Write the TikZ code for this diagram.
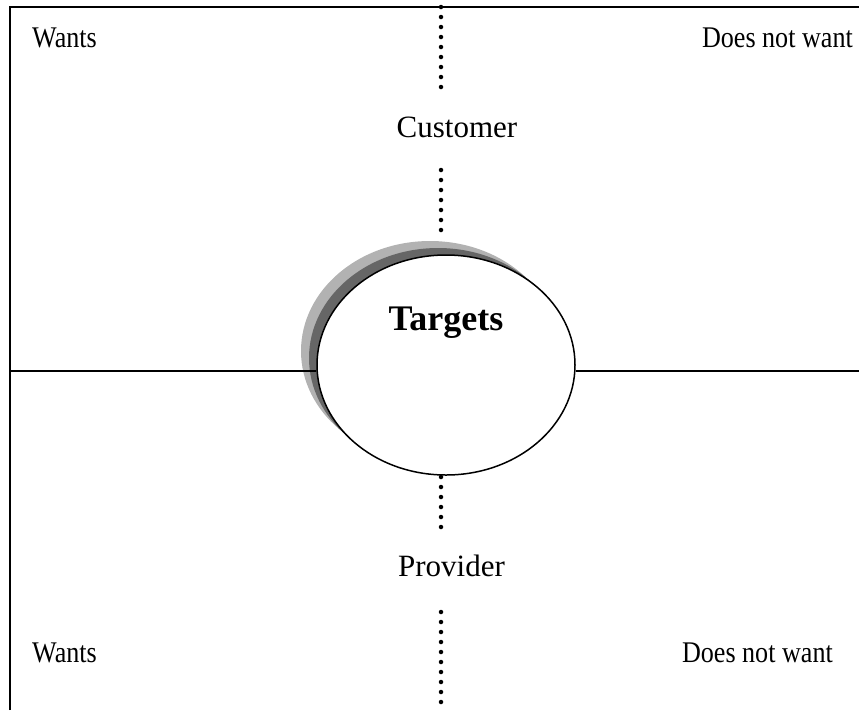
\documentclass[tikz,border=0pt]{standalone}
\usepackage{fontspec}
\setmainfont{Liberation Serif}
\usepackage{graphicx}
\usetikzlibrary{shapes.geometric,shadows}

\definecolor{shadelight}{gray}{0.70}
\definecolor{shadedark}{gray}{0.40}

\newcommand{\condensed}[1]{\scalebox{0.87}[1]{#1}}

\tikzset{
  frameline/.style={line width=2pt},
  midline/.style={line width=1.5pt},
  dotline/.style={line width=4.5pt, line cap=round, dash pattern=on 0pt off 10pt},
  corner/.style={inner sep=0pt, font=\fontsize{30}{36}\selectfont},
  role/.style={inner sep=0pt, font=\fontsize{31}{37}\selectfont},
}

\begin{document}
\begin{tikzpicture}[x=1pt, y=-1pt]
    \useasboundingbox (0,0) rectangle (859,710);

    % frame
    \draw[frameline] (10,710) -- (10,7) -- (859,7);

    % targets ellipse with its shadow
    \node[ellipse, draw, line width=1.5pt, fill=white, inner sep=0pt,
          minimum width=258pt, minimum height=220pt,
          copy shadow={shadow xshift=-16pt, shadow yshift=14pt, fill=shadelight, draw=none},
          copy shadow={shadow xshift=-8pt, shadow yshift=7pt, fill=shadedark, draw=none}]
          (target) at (446,365) {};
    \node[inner sep=0pt, anchor=base, font=\fontsize{36}{43}\selectfont\bfseries]
          (targetlabel) at (446,330) {Targets};

    % middle line
    \coordinate (midleft) at (10,371);
    \coordinate (midright) at (859,371);
    \draw[midline] (midleft) -- (midleft -| target.west);
    \draw[midline] (midright -| target.east) -- (midright);

    % customer
    \node[role, anchor=base] (customer) at (457,137) {Customer};
    \coordinate (ctop) at (441,7);
    \coordinate (cend) at (441,93);
    \coordinate (cstart) at (441,170);
    \coordinate (cbot) at (441,238);
    \draw[dotline] (ctop) -- (cend);
    \draw[dotline] (cstart) -- (cbot);

    % provider
    \node[role, anchor=base] (provider) at (451.5,576) {Provider};
    \coordinate (ptop) at (441,477);
    \coordinate (pend) at (441,533);
    \coordinate (pstart) at (441,612);
    \coordinate (pbot) at (441,712);
    \draw[dotline] (ptop) -- (pend);
    \draw[dotline] (pstart) -- (pbot);

    % corners
    \node[corner, anchor=base west] (wantsup) at (32,47) {\condensed{Wants}};
    \node[corner, anchor=base east] (notup) at (853,47) {\condensed{Does not want}};
    \node[corner, anchor=base west] (wantsdown) at (32,662) {\condensed{Wants}};
    \node[corner, anchor=base east] (notdown) at (833,662) {\condensed{Does not want}};

\end{tikzpicture}
\end{document}
